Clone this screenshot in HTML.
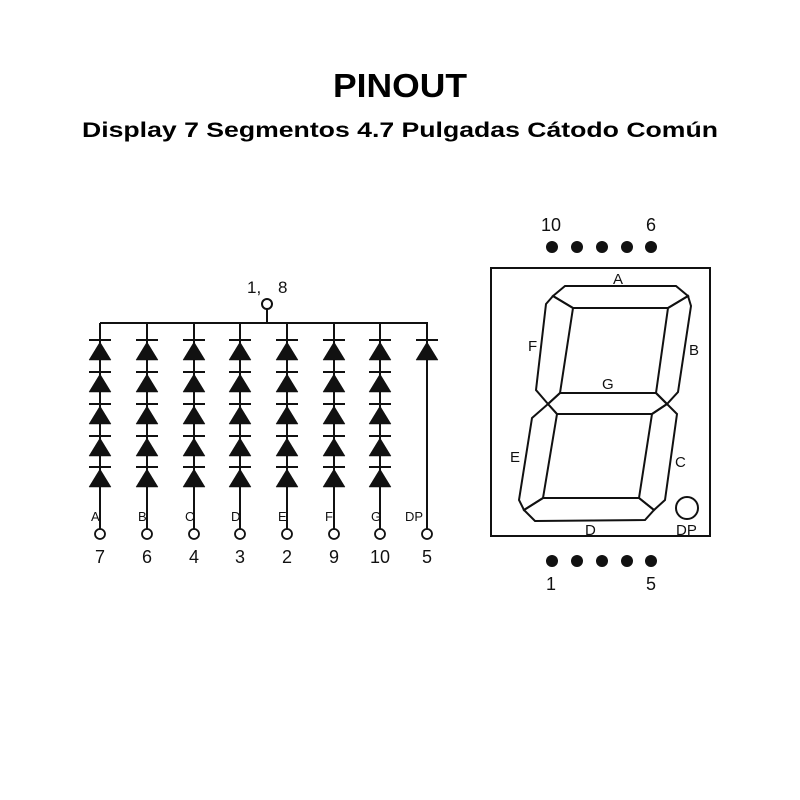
<!DOCTYPE html>
<html><head><meta charset="utf-8"><style>
html,body{margin:0;padding:0;background:#fff;}
svg{display:block}
</style></head><body>
<svg width="800" height="800" viewBox="0 0 800 800" xmlns="http://www.w3.org/2000/svg" font-family="Liberation Sans, Arial, sans-serif">
<rect width="800" height="800" fill="#fff"/>
<text x="333" y="97" font-size="33" font-weight="bold" fill="#000" textLength="134" lengthAdjust="spacingAndGlyphs">PINOUT</text>
<text x="82" y="137" font-size="21" font-weight="bold" fill="#000" textLength="636" lengthAdjust="spacingAndGlyphs">Display 7 Segmentos 4.7 Pulgadas Cátodo Común</text>

<g stroke="#111" stroke-width="2" fill="none">
<line x1="100" y1="323" x2="428" y2="323"/>
<line x1="267" y1="323" x2="267" y2="309"/>
<circle cx="267" cy="304" r="5"/>
</g>
<text x="247" y="293" font-size="17" fill="#111">1,</text>
<text x="278" y="293" font-size="17" fill="#111">8</text>

<g id="cols" fill="#111" stroke="#111">
</g>
<script>
(function(){
var xs=[100,147,194,240,287,334,380,427];
var lab=["A","B","C","D","E","F","G","DP"];
var num=["7","6","4","3","2","9","10","5"];
var bars=[340,372,404,436,467];
var g=document.getElementById('cols');
var ns="http://www.w3.org/2000/svg";
function el(t,a){var e=document.createElementNS(ns,t);for(var k in a)e.setAttribute(k,a[k]);g.appendChild(e);return e;}
xs.forEach(function(x,i){
 el('line',{x1:x,y1:323,x2:x,y2:529,'stroke-width':2});
 el('circle',{cx:x,cy:534,r:5,fill:'#fff','stroke-width':1.8});
 var bs=(i==7)?[340]:bars;
 bs.forEach(function(y){
  el('line',{x1:x-11,y1:y,x2:x+11,y2:y,'stroke-width':2});
  el('polygon',{points:(x)+','+(y+2)+' '+(x-11)+','+(y+20)+' '+(x+11)+','+(y+20),'stroke-width':0.5});
 });
 var t=el('text',{x:(i==7?x-22:x-9),y:521,'font-size':13,stroke:'none'});t.textContent=lab[i];
 var n=el('text',{x:x,y:563,'font-size':18,'text-anchor':'middle',stroke:'none'});n.textContent=num[i];
});
})();
</script>

<g stroke="#111" stroke-width="2" fill="none">
<rect x="491" y="268" width="219" height="268"/>
<polygon points="553,296 565,286 676,286 688,296 668,308 573,308"/>
<polygon points="553,296 573,308 560,393 548,404 536,390 546,304"/>
<polygon points="688,296 691,306 678,392 667,404 656,393 668,308"/>
<polygon points="548,404 560,393 656,393 667,404 652,414 557,414"/>
<polygon points="548,404 557,414 543,498 524,510 519,500 532,418"/>
<polygon points="667,404 677,414 665,500 654,510 639,498 652,414"/>
<polygon points="524,510 543,498 639,498 654,510 645,520 535,521"/>
<circle cx="687" cy="508" r="11"/>
</g>
<g fill="#111" font-size="15">
<text x="613" y="284">A</text>
<text x="528" y="351">F</text>
<text x="689" y="355">B</text>
<text x="602" y="389">G</text>
<text x="510" y="462">E</text>
<text x="675" y="467">C</text>
<text x="585" y="535">D</text>
<text x="676" y="535">DP</text>
</g>
<g fill="#111">
<circle cx="552" cy="247" r="6"/><circle cx="577" cy="247" r="6"/><circle cx="602" cy="247" r="6"/><circle cx="627" cy="247" r="6"/><circle cx="651" cy="247" r="6"/>
<circle cx="552" cy="561" r="6"/><circle cx="577" cy="561" r="6"/><circle cx="602" cy="561" r="6"/><circle cx="627" cy="561" r="6"/><circle cx="651" cy="561" r="6"/>
</g>
<g fill="#111" font-size="18" text-anchor="middle">
<text x="551" y="231">10</text>
<text x="651" y="231">6</text>
<text x="551" y="590">1</text>
<text x="651" y="590">5</text>
</g>
</svg>
</body></html>
